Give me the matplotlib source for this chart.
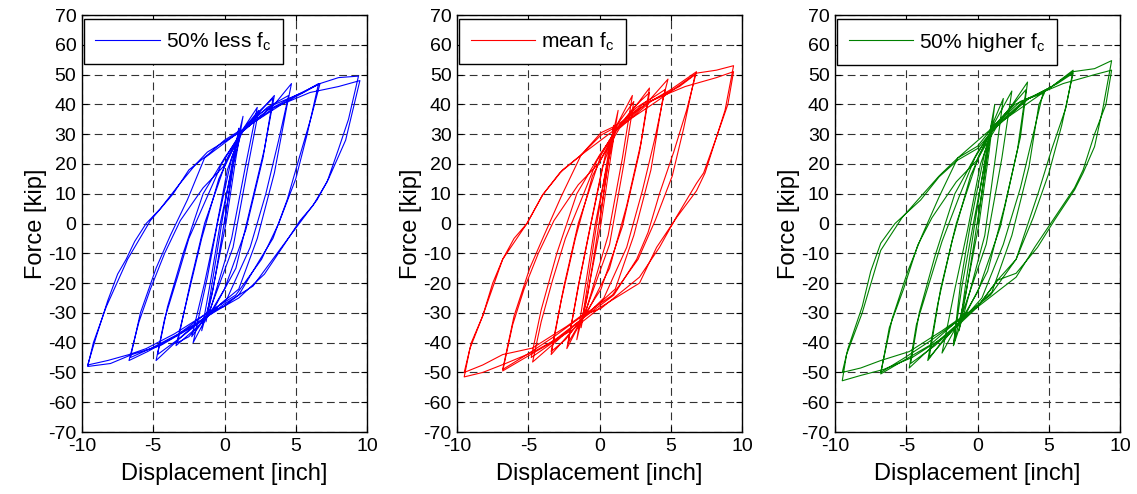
import matplotlib
matplotlib.use("Agg")
import matplotlib.pyplot as plt

plt.rcParams['font.family'] = ['Liberation Sans', 'DejaVu Sans']
plt.rcParams['mathtext.default'] = 'regular'
plt.rcParams['axes.unicode_minus'] = False

# ---- data (hysteresis paths, inch / kip) ----
blue_disp = [
    0.0, 0.6, 1.0, 0.5, -0.2, -0.8, -1.3, -0.8, -0.2,
    0.6, 1.3, 0.8, 0.1, -0.9, -1.6, -1.0, -0.3,
    0.5, 1.2, 2.3, 1.5, 0.5, -1.0, -2.2, -1.2, -0.5,
    0.5, 1.2, 2.4, 1.6, 0.6, -1.1, -2.3, -1.4, -0.6,
    0.2, 1.1, 2.2, 3.5, 2.8, 1.8, 0.8, -0.9, -2.2, -3.4, -2.6, -1.6, -0.4,
    1.1, 2.5, 3.4, 2.7, 1.5, 0.0, -1.0, -2.5, -3.3, -2.4, -1.4,
    0.2, 1.2, 2.5, 3.5, 4.7, 4.4, 3.5, 2.3, 1.0, -1.0, -2.8, -4.8, -4.2, -3.3, -2.5, -1.3, -0.2,
    1.2, 3.0, 4.5, 3.8, 2.9, 1.8, 0.2, -1.2, -3.0, -4.7, -4.0, -2.9,
    -1.5, 0.0, 1.3, 3.0, 5.0, 6.7, 6.1, 5.3, 4.4, 3.4, 2.5, 1.0, -0.1, -1.5, -3.5, -5.4, -6.7,
    -6.0, -5.2, -4.2, -3.1, -1.5, -0.1,
    1.3, 3.5, 5.5, 6.6, 5.8, 5.0, 3.8, 2.6, 0.8, -1.2, -3.2, -5.2, -6.6, -5.9, -4.8, -3.8,
    -2.6, -1.4, 1.1, 4.0, 6.7, 8.0, 9.4, 8.7, 8.0, 7.2, 6.2, 5.3, 4.2, 2.8, 1.0, -0.1, -1.2,
    -3.5, -5.5, -6.7, -8.2, -9.6,
    -9.0, -8.2, -7.5, -6.9, -6.3, -5.5, -4.5, -3.2, -2.0, -1.2, 0.5, 1.2, 3.5, 6.0, 8.0, 9.5,
    9.0, 8.5, 7.3, 6.5, 5.4, 4.0, 2.0, 0.0, -2.0, -4.5, -6.5, -8.0, -9.6,
    -9.2, -8.3, -6.8, -5.2, -3.6, -2.5, -1.2, 0.0, 1.0,
]
blue_force = [
    0, 20, 32, 16, -5, -22, -33, -18, 0,
    22, 36, 22, 0, -24, -36, -20, 0,
    18, 31, 39, 20, -5, -29, -40, -18, 0,
    22, 31, 38, 18, -8, -30, -38, -20, -2,
    18, 30, 36, 43, 25, 5, -15, -30, -36, -41, -25, -5, 15,
    30, 38, 42, 22, -2, -22, -30, -38, -40, -20, 0,
    22, 31, 37, 40, 47, 40, 17, -5, -22, -30, -37, -46, -32, -18, -5, 8, 20,
    31, 39, 43, 28, 10, -8, -25, -31, -38, -44, -28, -10,
    10, 22, 31, 38, 43, 47, 36, 23, 8, -5, -12, -24, -28, -32, -38, -43, -46,
    -33, -22, -10, 1, 12, 19,
    31, 40, 44, 47, 30, 15, 0, -12, -24, -30, -37, -42, -45, -30, -15, -4,
    8, 22, 31, 40, 47, 49, 49.5, 35, 25, 14, 6, 1, -7, -17, -25, -28, -30,
    -37, -42, -44, -46, -47.5,
    -38, -26, -17, -12, -6, 0, 5, 13, 20, 24, 29, 31, 39, 44, 46, 48,
    38, 28, 15, 8, 1, -8, -21, -27, -34, -41, -44, -47, -48,
    -40, -28, -12, 1, 10, 18, 23, 28, 31,
]

red_disp = [
    0.0, 0.6, 1.0, 0.5, -0.2, -0.8, -1.3, -0.8, -0.2,
    0.6, 1.3, 0.8, 0.1, -0.9, -1.6, -1.0, -0.3,
    0.5, 1.2, 2.3, 1.6, 0.6, -1.0, -2.3, -1.4, -0.6,
    0.4, 1.2, 2.4, 1.7, 0.7, -1.1, -2.2, -1.5, -0.7,
    0.2, 1.1, 2.3, 3.5, 2.9, 1.9, 0.7, -1.0, -2.3, -3.4, -2.7, -1.7, -0.5,
    1.1, 2.4, 3.5, 2.8, 1.6, 0.1, -1.1, -2.4, -3.4, -2.5, -1.5,
    0.1, 1.2, 2.6, 3.6, 4.8, 4.4, 3.6, 2.4, 1.1, -1.0, -2.9, -4.7, -4.1, -3.3, -2.4, -1.2, -0.2,
    1.2, 3.0, 4.6, 3.9, 3.0, 1.9, 0.3, -1.2, -3.0, -4.8, -4.1, -3.0,
    -1.6, 0.0, 1.3, 3.2, 5.0, 6.8, 6.1, 5.2, 4.2, 3.4, 2.6, 1.0, -0.1, -1.5, -3.4, -5.2, -6.8,
    -6.1, -5.3, -4.3, -3.2, -1.5, -0.1,
    1.4, 3.6, 5.6, 6.7, 5.9, 5.1, 3.9, 2.7, 0.9, -1.2, -3.2, -5.1, -6.8, -6.0, -4.9, -3.9,
    -2.7, -1.3, 1.2, 4.0, 6.8, 8.2, 9.4, 8.8, 8.2, 7.3, 6.8, 5.4, 4.2, 2.8, 1.0, 0.1, -1.3,
    -2.3, -4.7, -6.8, -8.2, -9.5,
    -9.0, -8.2, -7.5, -6.8, -6.0, -5.1, -4.0, -2.8, -1.3, 0.1, 1.2, 3.5, 6.0, 8.2, 9.4,
    9.0, 8.2, 7.4, 6.8, 5.4, 4.0, 2.8, 0.1, -2.0, -4.6, -6.6, -8.2, -9.5,
    -9.1, -8.2, -6.8, -5.1, -4.0, -2.6, -1.3, 0.1, 1.0,
]
red_force = [
    0, 21, 33, 17, -5, -23, -35, -19, 0,
    23, 38, 23, 0, -25, -39, -21, 0,
    19, 33, 43, 22, -4, -30, -42, -19, 0,
    23, 33, 41, 20, -7, -31, -40, -21, -2,
    19, 31, 38, 45.5, 27, 6, -15, -31, -38, -44, -26, -5, 16,
    31, 39, 44, 24, -1, -22, -31, -39, -43, -21, 0,
    23, 32, 39, 42, 48.5, 41, 18, -4, -22, -31, -39, -46.5, -33, -19, -5, 9, 21,
    32, 40, 45, 29, 11, -8, -25, -32, -39, -45, -29, -10,
    10, 23, 32, 40, 45, 51, 38, 24, 10, -3, -12, -24, -28, -33, -40, -45, -49.5,
    -34, -22, -10, 1, 13, 20,
    32, 41, 46, 50, 32, 16, 1, -12, -24, -31, -38, -44, -49, -31, -15, -4,
    9, 23, 32, 41, 50.5, 51.5, 53, 38, 29, 17, 13.5, 2.3, -8, -18, -25, -28.5, -31,
    -34.5, -41.8, -44, -47.5, -50,
    -40, -31, -20, -12, -5, 0, 9.6, 17, 23, 30.5, 33, 41, 46, 49, 51,
    40, 29, 17, 11, 2, -8, -20, -28, -36, -43, -47, -50, -51.5,
    -42, -31, -12, 0, 9.6, 18, 23, 29.7, 32,
]

green_disp = [
    0.0, 0.6, 1.0, 0.5, -0.2, -0.8, -1.3, -0.8, -0.2,
    0.6, 1.2, 0.8, 0.1, -0.9, -1.7, -1.1, -0.3,
    0.5, 1.1, 1.8, 1.3, 0.5, -1.0, -1.7, -1.2, -0.5,
    0.5, 1.2, 2.4, 1.7, 0.6, -1.2, -2.5, -1.6, -0.7,
    0.2, 1.1, 2.3, 3.5, 3.0, 1.9, 0.7, -1.0, -2.4, -3.5, -2.8, -1.8, -0.5,
    1.0, 2.5, 3.4, 2.8, 1.6, 0.0, -1.1, -2.5, -3.4, -2.6, -1.5,
    0.1, 1.2, 2.6, 3.6, 4.7, 4.3, 3.6, 2.4, 1.0, -1.0, -2.9, -4.8, -4.3, -3.4, -2.5, -1.3, -0.2,
    1.2, 3.0, 4.6, 3.9, 3.0, 1.8, 0.3, -1.2, -3.0, -4.7, -4.1, -3.0,
    -1.6, 0.0, 1.3, 3.2, 5.2, 6.7, 6.2, 5.2, 4.3, 3.4, 2.7, 1.4, 0.0, -1.5, -3.4, -5.2, -6.8,
    -6.2, -5.2, -4.2, -3.2, -1.5, -0.1,
    1.4, 3.6, 5.6, 6.7, 5.9, 5.0, 3.9, 2.7, 0.9, -1.2, -3.2, -5.1, -6.8, -6.0, -4.9, -3.9,
    -2.7, -1.4, 1.0, 4.0, 6.7, 8.2, 9.4, 8.8, 8.2, 7.4, 6.8, 5.4, 4.2, 2.7, 1.4, 0.0, -1.3,
    -2.5, -4.8, -6.8, -8.2, -9.5,
    -9.1, -8.1, -7.5, -6.8, -5.8, -4.0, -2.7, -1.4, 0.0, 1.0, 3.5, 6.0, 8.2, 9.4,
    9.0, 8.2, 7.4, 6.8, 5.4, 4.0, 2.7, 0.0, -2.0, -4.6, -6.6, -8.2, -9.5,
    -9.2, -8.1, -6.8, -5.3, -4.0, -2.7, -1.4, 0.0, 1.0,
]
green_force = [
    0, 21, 34, 17, -5, -23, -36, -19, 0,
    24, 40, 24, 0, -25, -41, -21, 0,
    20, 34, 42, 24, -4, -31, -41, -20, 0,
    24, 34, 44.5, 22, -7, -32, -43.5, -22, -2,
    20, 32, 39, 47.5, 29, 6, -16, -32, -39, -46, -27, -6, 16,
    32, 40, 45, 25, -1, -23, -32, -40, -45, -22, 0,
    23, 33, 40, 42, 44, 40, 19, -4, -23, -32, -40, -48.5, -34, -20, -6, 9, 22,
    33, 41, 44, 30, 12, -7, -25, -33, -41, -47, -30, -11,
    10, 24, 33, 41, 46, 51.5, 39, 25, 11, -2, -12, -19, -27.9, -33, -41, -46, -50.5,
    -35, -22, -7.2, 2, 14, 21,
    33, 42, 47, 50.5, 33, 17, 2, -12, -24, -32, -39, -45, -50, -32, -16, -4,
    9, 22, 32, 42, 51, 52, 54.7, 39, 25.8, 17, 11.3, 1.2, -8, -16.7, -19, -27.9, -32,
    -36, -43, -46, -48.5, -50,
    -42, -27.9, -16, -6.6, 0, 7.9, 15.7, 21.3, 25.2, 31, 42, 47, 50, 51.5,
    40, 30, 18, 12, 2, -8, -18, -28, -37, -45, -49, -51, -52.8,
    -44, -30, -9, 2, 9, 16, 22, 26, 32,
]

labels = ['50% less f$_{c}$', 'mean f$_{c}$', '50% higher f$_{c}$']
colors = ['#0000ff', '#ff0000', '#008000']
disp_sets = [blue_disp, red_disp, green_disp]
force_sets = [blue_force, red_force, green_force]
x_ticks = [-10, -5, 0, 5, 10]
y_ticks = list(range(-70, 71, 10))

fig = plt.figure(figsize=(11.37, 4.94), dpi=100)
lefts = [0.0721, 0.402, 0.7345]

for k in range(3):
    ax = fig.add_axes([lefts[k], 0.1255, 0.2507, 0.844])
    ax.plot(disp_sets[k], force_sets[k], color=colors[k], lw=0.8, label=labels[k])
    ax.set_xlim(-10, 10)
    ax.set_ylim(-70, 70)
    ax.set_xticks(x_ticks)
    ax.set_yticks(y_ticks)
    ax.grid(True, color='0.2', linestyle=(0, (7, 4)), linewidth=0.8)
    ax.tick_params(direction='in', length=4, top=True, right=True, labelsize=14, pad=4)
    for s in ax.spines.values():
        s.set_linewidth(1.0)
    ax.set_xlabel('Displacement [inch]', fontsize=17, labelpad=6)
    ax.set_ylabel('Force [kip]', fontsize=17, labelpad=1)
    leg = ax.legend(loc='upper left', bbox_to_anchor=(0.007, 0.99), fontsize=15,
                    fancybox=False, framealpha=1, edgecolor='k', borderaxespad=0,
                    handlelength=3.1, borderpad=0.55, handletextpad=0.3)
    leg.get_frame().set_linewidth(1.0)

fig.savefig('out.png', dpi=100)
